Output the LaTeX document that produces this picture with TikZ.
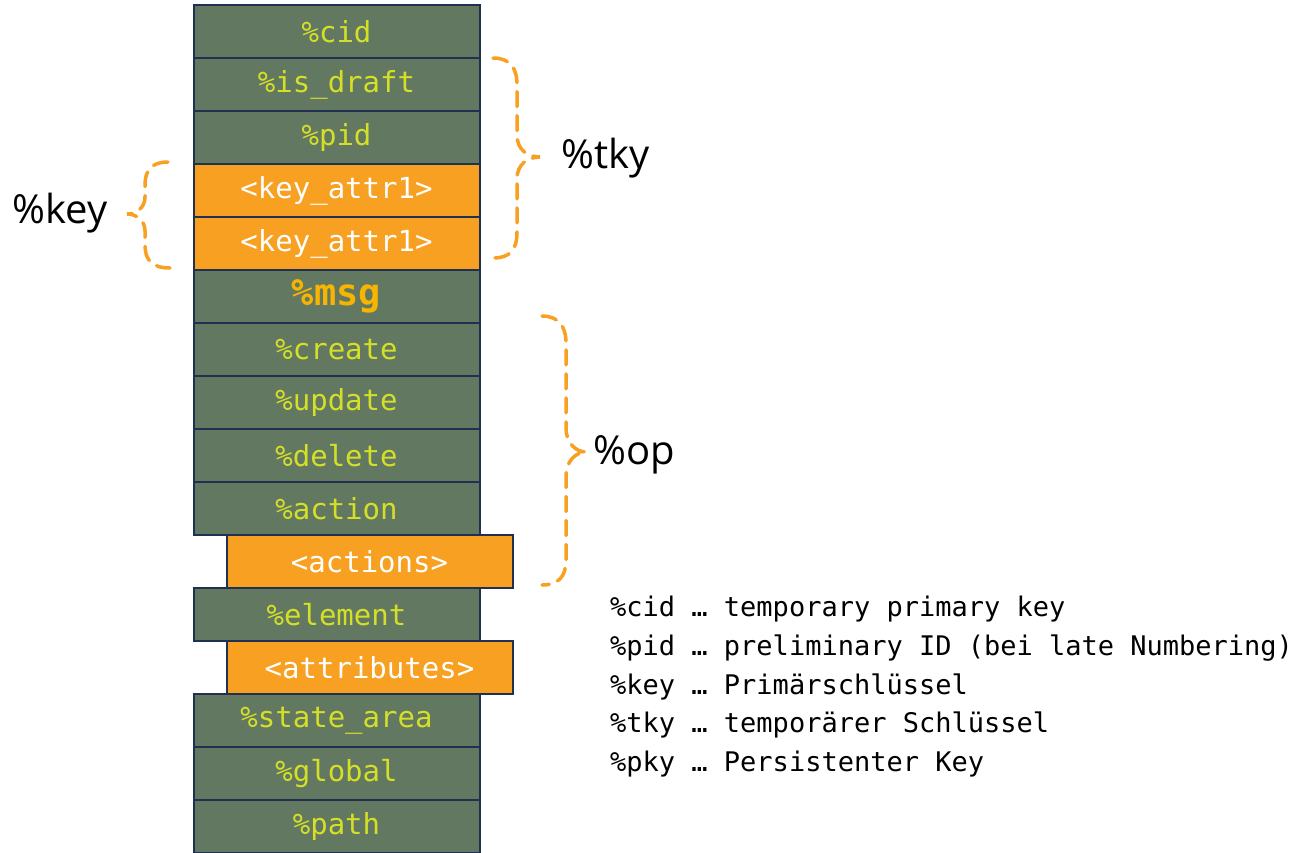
\documentclass[tikz,border=0pt]{standalone}
\usepackage{fontspec}
\setmainfont{Open Sans}
\newfontfamily\monof{DejaVu Sans Mono}
\definecolor{navy}{RGB}{31,48,80}
\definecolor{gfill}{RGB}{99,120,96}
\definecolor{lime}{RGB}{212,224,40}
\definecolor{orng}{RGB}{247,160,33}
\definecolor{gold}{RGB}{247,180,0}
\begin{document}
\begin{tikzpicture}[x=1pt,y=-1pt,
  rowbox/.style={draw=navy, line width=2pt, minimum width=286pt, minimum height=53pt, inner sep=0pt,
    font=\monof\fontsize{29}{31}\selectfont},
  greenbox/.style={rowbox, fill=gfill, text=lime},
  orangebox/.style={rowbox, fill=orng, text=white},
  brc/.style={draw=orng, line width=3.5pt, dash pattern=on 15pt off 9pt, line cap=round},
  lbl/.style={font=\fontsize{40}{44}\selectfont, text=black, inner sep=0pt},
  legend/.style={font=\monof\fontsize{27}{30}\selectfont, text=black, inner sep=0pt, anchor=west}]
\useasboundingbox (0,0) rectangle (1301,852);
\node[greenbox] (cid) at (336.5,31.5) {\%cid};
\node[greenbox] (draft) at (336.5,84.5) {\%is\_draft};
\node[greenbox] (pid) at (336.5,137.5) {\%pid};
\node[orangebox] (ka1) at (336.5,190.5) {<key\_attr1>};
\node[orangebox] (ka2) at (336.5,243.5) {<key\_attr1>};
\node[greenbox, text=gold, font=\monof\bfseries\fontsize{37}{40}\selectfont] (msg) at (336.5,296.5) {\%msg};
\node[greenbox] (create) at (336.5,349.5) {\%create};
\node[greenbox] (update) at (336.5,402.5) {\%update};
\node[greenbox] (delete) at (336.5,455.5) {\%delete};
\node[greenbox] (action) at (336.5,508.5) {\%action};
\node[orangebox] (actions) at (369.5,561.5) {<actions>};
\node[greenbox] (element) at (336.5,614.5) {\%element};
\node[orangebox] (attrs) at (369.5,667.5) {<attributes>};
\node[greenbox] (state) at (336.5,720.5) {\%state\_area};
\node[greenbox] (global) at (336.5,773.5) {\%global};
\node[greenbox] (path) at (336.5,826.5) {\%path};
% braces
\draw[brc] (493,58) .. controls (510,58) and (517,68) .. (517,85) -- (517,135)
  .. controls (517,150) and (528,157) .. (540,157) .. controls (528,157) and (517,164) .. (517,179)
  -- (517,232) .. controls (517,250) and (510,258) .. (493,258);
\draw[brc] (168,162) .. controls (152,162) and (145,170) .. (145,185) -- (145,197)
  .. controls (145,208) and (136,214) .. (127,214) .. controls (136,214) and (145,220) .. (145,231)
  -- (145,245) .. controls (145,260) and (152,268) .. (170,268);
\draw[brc] (542,316) .. controls (558,316) and (566,326) .. (566,343) -- (566,428)
  .. controls (566,443) and (576,452) .. (586,452) .. controls (576,452) and (566,461) .. (566,476)
  -- (566,560) .. controls (566,577) and (558,585) .. (542,585);
\node[lbl] (tky) at (606,158) {\%tky};
\node[lbl] (key) at (60,213) {\%key};
\node[lbl] (op) at (634,455) {\%op};
\node[legend] (l1) at (610,609) {\%cid … temporary primary key};
\node[legend] (l2) at (610,648) {\%pid … preliminary ID (bei late Numbering)};
\node[legend] (l3) at (610,687) {\%key … Primärschlüssel};
\node[legend] (l4) at (610,725) {\%tky … temporärer Schlüssel};
\node[legend] (l5) at (610,764) {\%pky … Persistenter Key};
\end{tikzpicture}
\end{document}
